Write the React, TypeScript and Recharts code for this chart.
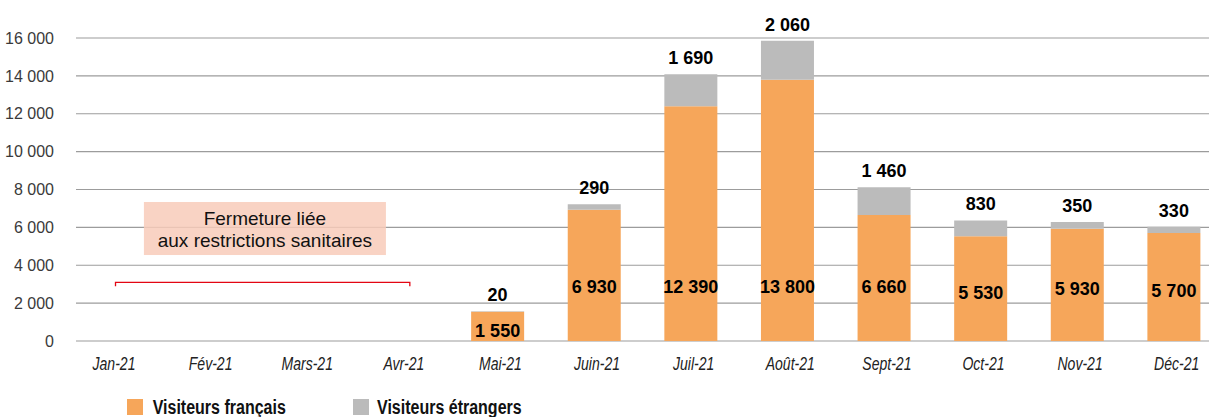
import React from 'react';
import {
  BarChart,
  Bar,
  XAxis,
  YAxis,
  CartesianGrid,
  LabelList,
  ReferenceArea,
  ReferenceLine,
} from 'recharts';

const months = ['Jan-21', 'Fév-21', 'Mars-21', 'Avr-21', 'Mai-21', 'Juin-21', 'Juil-21', 'Août-21', 'Sept-21', 'Oct-21', 'Nov-21', 'Déc-21'];
const french: (number | null)[] = [null, null, null, null, 1550, 6930, 12390, 13800, 6660, 5530, 5930, 5700];
const foreign: (number | null)[] = [null, null, null, null, 20, 290, 1690, 2060, 1460, 830, 350, 330];
const yTicks = [0, 2000, 4000, 6000, 8000, 10000, 12000, 14000, 16000];
const legendLabels = ['Visiteurs français', 'Visiteurs étrangers'];
const noteLines = ['Fermeture liée', 'aux restrictions sanitaires'];

const data = months.map((m, i) => ({ month: m, fr: french[i], et: foreign[i] }));

const ORANGE = '#F6A65A';
const GREY = '#BBBBBB';
const FONT = '"Liberation Sans", Arial, Helvetica, sans-serif';

const fmt = (v: number) => String(v).replace(/\B(?=(\d{3})+(?!\d))/g, ' ');

const XTick = (props: any) => {
  const { x, y, payload } = props;
  return (
    <g transform={`translate(${x + 3},${y})`}>
      <text
        transform="scale(0.78,1)"
        x={0}
        y={29.5}
        textAnchor="middle"
        fontFamily={FONT}
        fontStyle="italic"
        fontSize={18}
        fill="#222"
      >
        {payload.value}
      </text>
    </g>
  );
};

const FrLabel = (props: any) => {
  const { x, y, width, height, value } = props;
  if (value == null) return null;
  const bottom = y + height;
  const c = bottom - Math.min(54, height / 2 - 4);
  return (
    <text x={x + width / 2} y={c + 6.4} textAnchor="middle" fontFamily={FONT} fontWeight="bold" fontSize={18} fill="#000">
      {fmt(value)}
    </text>
  );
};

const EtLabel = (props: any) => {
  const { x, y, width, value } = props;
  if (value == null) return null;
  return (
    <text x={x + width / 2} y={y - 16.5 + 6.4} textAnchor="middle" fontFamily={FONT} fontWeight="bold" fontSize={18} fill="#000">
      {fmt(value)}
    </text>
  );
};

const gridLine = (p: any) => (
  <line key={p.key ?? `g-${p.y1}`} x1={p.x1 + 13.3} y1={p.y1} x2={p.x2} y2={p.y2} stroke="#9c9c9c" strokeWidth={1.2} />
);

const NoteBox = (p: any) => {
  const cx = p.x + p.width / 2 + 9;
  return (
    <g>
      <rect x={cx - 121} y={p.y} width={242} height={p.height} fill="#F8CBBA" fillOpacity={0.85} />
      <text x={cx} y={p.y + 15.7 + 7} textAnchor="middle" fontFamily={FONT} fontSize={19} fill="#111">
        {noteLines[0]}
      </text>
      <text x={cx} y={p.y + 38 + 7} textAnchor="middle" fontFamily={FONT} fontSize={19} fill="#111">
        {noteLines[1]}
      </text>
    </g>
  );
};

const Bracket = (p: any) => {
  const { x1, y1, x2 } = p;
  const a = x1 + 4.5;
  const b = x2 + 9;
  return <path d={`M${a},${y1 + 4} V${y1} H${b} V${y1 + 4}`} fill="none" stroke="#E30613" strokeWidth={1.3} />;
};

export default function App() {
  return (
    <div style={{ position: 'absolute', left: 0, top: 0, width: 1209, height: 417, overflow: 'hidden', background: '#fff' }}>
      <BarChart
        width={1230}
        height={417}
        data={data}
        margin={{ top: 38, right: 8, bottom: 46, left: 2.7 }}
        barSize={53}
      >
        <CartesianGrid vertical={false} horizontal={gridLine} />
        <XAxis
          dataKey="month"
          axisLine={false}
          tickLine={false}
          tickSize={0}
          tickMargin={0}
          height={30}
          interval={0}
          tick={<XTick />}
        />
        <YAxis
          width={60}
          domain={[0, 16000]}
          ticks={yTicks}
          axisLine={false}
          tickLine={false}
          tickSize={0}
          tickMargin={8.7}
          tickFormatter={fmt}
          tick={{ fontFamily: FONT, fontSize: 16, fill: '#3a3a3a' }}
        />
        <ReferenceArea x1="Fév-21" x2="Mars-21" y1={4540} y2={7340} shape={NoteBox} ifOverflow="visible" />
        <ReferenceLine
          segment={[{ x: 'Jan-21', y: 3100 }, { x: 'Avr-21', y: 3100 }]}
          shape={Bracket}
          ifOverflow="visible"
        />
        <Bar dataKey="fr" stackId="a" fill={ORANGE} isAnimationActive={false}>
          <LabelList dataKey="fr" content={FrLabel} />
        </Bar>
        <Bar dataKey="et" stackId="a" fill={GREY} isAnimationActive={false}>
          <LabelList dataKey="et" content={EtLabel} />
        </Bar>
      </BarChart>
      <svg width={1209} height={417} style={{ position: 'absolute', left: 0, top: 0, pointerEvents: 'none' }}>
        <rect x={127} y={399} width={16} height={16} fill={ORANGE} />
        <g transform="translate(152.7,414) scale(0.8,1)">
          <text x={0} y={0} fontFamily={FONT} fontWeight="bold" fontSize={20} fill="#111">
            {legendLabels[0]}
          </text>
        </g>
        <rect x={353} y={399} width={16} height={16} fill={GREY} />
        <g transform="translate(377,414) scale(0.8,1)">
          <text x={0} y={0} fontFamily={FONT} fontWeight="bold" fontSize={20} fill="#111">
            {legendLabels[1]}
          </text>
        </g>
      </svg>
    </div>
  );
}
